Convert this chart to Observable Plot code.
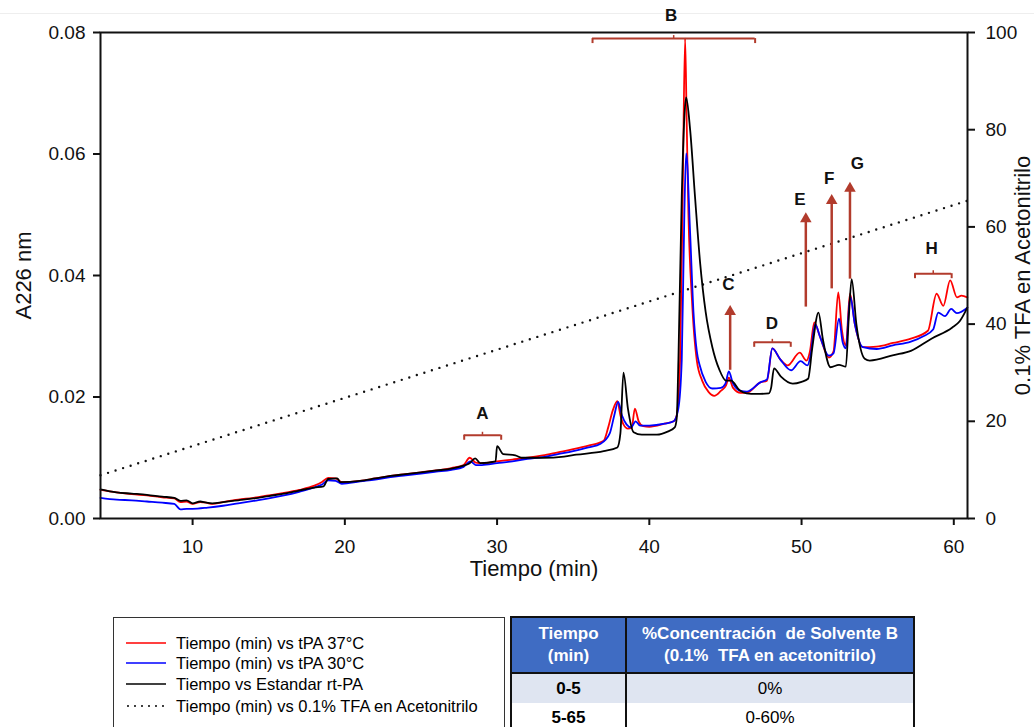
<!DOCTYPE html>
<html>
<head>
<meta charset="utf-8">
<script src="https://cdn.jsdelivr.net/npm/d3@7"></script>
<script src="https://cdn.jsdelivr.net/npm/@observablehq/plot@0.6"></script>
<style>
  html, body { margin: 0; padding: 0; background: #fff; }
  body { font-family: "Liberation Sans", Arial, sans-serif; }
  #wrap { position: relative; width: 1034px; height: 727px; overflow: hidden; background: #fff; }
  #chart { position: absolute; left: 0; top: 0; }
  #topline { position: absolute; left: 0; top: 13px; width: 1034px; height: 1px; background: #eeeeee; }
  #legend { position: absolute; left: 113px; top: 617px; width: 392px; height: 130px; border: 1.5px solid #333; box-sizing: border-box; font-size: 16.5px; color: #000; }
  .lrow { position: absolute; left: 12px; height: 20px; display: flex; align-items: center; }
  .lrow svg { margin-right: 10px; }
  #tbl { position: absolute; left: 510px; top: 616px; border-collapse: collapse; font-size: 17px; color: #000; }
  #tbl th { background: #3f6cc3; color: #fff; font-weight: bold; border: 2px solid #111; text-align: center; line-height: 22px; padding: 4px 0; height: 46px; }
  #tbl td { text-align: center; height: 29px; padding: 0; border-left: 2px solid #111; border-right: 2px solid #111; }
  #tbl tr.r1 td { background: #dfe5f1; }
</style>
</head>
<body>
<div id="wrap">
  <div id="topline"></div>
  <div id="chart"></div>
  <div id="legend"></div>
  <table id="tbl"></table>
</div>
<script>
// ---------------- data ----------------
// tPA 37°C (red): [time (min), A226]
const red37 = [
  [3.95,0.0047],[5,0.0043],[6,0.0040],[7,0.0038],[8,0.0035],[8.8,0.0033],[9.2,0.0027],[9.6,0.0028],[10,0.0024],[10.5,0.0027],[10.9,0.0026],[11.3,0.0024],[12,0.0027],[13,0.0031],[14,0.0034],[15,0.0038],[16,0.0042],[17,0.0047],[18,0.0054],[18.5,0.0060],[18.9,0.0067],[19.4,0.0066],[19.8,0.0060],[21,0.0062],[22,0.0066],[23,0.0070],[24,0.0073],[25,0.0076],[26,0.0079],[27,0.0083],[27.8,0.0088],[28.2,0.0100],[28.6,0.0092],[29,0.0091],[30,0.0094],[31,0.0097],[32,0.0100],[33,0.0104],[34,0.0109],[35,0.0114],[36,0.0120],[37,0.0128],[37.3,0.0150],[37.6,0.0178],[37.9,0.0193],[38.1,0.0170],[38.3,0.0155],[38.6,0.0148],[38.85,0.0150],[39.05,0.0181],[39.3,0.0160],[39.6,0.0152],[40,0.0151],[41,0.0156],[41.6,0.0160],[41.8,0.0170],[42.02,0.0260],[42.2,0.0550],[42.35,0.0790],[42.45,0.0660],[42.57,0.0500],[42.8,0.0360],[43.12,0.0260],[43.47,0.0227],[43.9,0.0208],[44.26,0.0202],[44.7,0.0210],[45.04,0.0219],[45.22,0.0232],[45.5,0.0215],[46.0,0.0207],[46.4,0.0207],[47.29,0.0224],[47.73,0.0227],[48.08,0.0280],[48.6,0.0262],[49.09,0.0252],[49.88,0.0273],[50.32,0.0260],[50.55,0.0275],[50.84,0.0323],[51.2,0.0300],[51.79,0.0265],[52.1,0.0275],[52.41,0.0372],[52.65,0.0310],[52.91,0.0285],[53.18,0.0370],[53.5,0.0320],[54.03,0.0282],[54.93,0.0283],[56,0.0289],[57.18,0.0296],[58.3,0.0309],[58.87,0.0370],[59.31,0.0350],[59.76,0.0392],[60.21,0.0364],[60.5,0.0367],[60.89,0.0364]
];
// tPA 30°C (blue)
const blue30 = [
  [3.95,0.0034],[5,0.0031],[6,0.0030],[7,0.0028],[8,0.0026],[8.8,0.0024],[9.2,0.0015],[9.6,0.0016],[10,0.0016],[11,0.0018],[12,0.0021],[13,0.0025],[14,0.0029],[15,0.0033],[16,0.0038],[17,0.0044],[18,0.0051],[18.5,0.0056],[18.9,0.0063],[19.4,0.0062],[19.8,0.0057],[21,0.0061],[22,0.0064],[23,0.0068],[24,0.0071],[25,0.0074],[26,0.0077],[27,0.0080],[27.8,0.0085],[28.25,0.0094],[28.6,0.0088],[29,0.0088],[30,0.0091],[31,0.0094],[32,0.0098],[33,0.0101],[34,0.0106],[35,0.0111],[36,0.0117],[36.8,0.0123],[37.4,0.0140],[37.7,0.0170],[37.95,0.0192],[38.2,0.0170],[38.5,0.0155],[38.8,0.0150],[39.1,0.0160],[39.4,0.0153],[40,0.0153],[41,0.0156],[41.6,0.0160],[41.9,0.0180],[42.13,0.0260],[42.3,0.0500],[42.42,0.0601],[42.68,0.0470],[42.9,0.0340],[43.12,0.0275],[43.3,0.0253],[43.7,0.0225],[44.14,0.0214],[44.7,0.0215],[45.0,0.0222],[45.22,0.0242],[45.5,0.0222],[46.0,0.0210],[46.4,0.0209],[47.29,0.0224],[47.73,0.0229],[48.08,0.0280],[48.6,0.0262],[49.31,0.0244],[49.94,0.0259],[50.39,0.0252],[50.6,0.0270],[50.89,0.0320],[51.2,0.0300],[51.79,0.0268],[52.1,0.0272],[52.46,0.0329],[52.7,0.0290],[52.91,0.0280],[53.2,0.0365],[53.5,0.0320],[54.03,0.0282],[54.93,0.0279],[56,0.0285],[57.18,0.0291],[58.0,0.0300],[58.64,0.0311],[58.98,0.0339],[59.42,0.0333],[59.83,0.0345],[60.2,0.0338],[60.89,0.0347]
];
// Estandar rt-PA (black)
const stdRtPA = [
  [3.95,0.0048],[5,0.0043],[6,0.0041],[7,0.0039],[8,0.0036],[8.8,0.0034],[9.2,0.0029],[9.6,0.0030],[10,0.0025],[10.5,0.0028],[10.9,0.0026],[11.3,0.0025],[12,0.0027],[13,0.0030],[14,0.0033],[15,0.0037],[16,0.0041],[17,0.0046],[18,0.0051],[18.6,0.0053],[18.9,0.0065],[19.5,0.0066],[19.7,0.0060],[21,0.0062],[22,0.0066],[23,0.0070],[24,0.0073],[25,0.0076],[26,0.0079],[27,0.0082],[27.8,0.0087],[28.2,0.0091],[28.56,0.0099],[28.9,0.0091],[29.9,0.0094],[30.0,0.0119],[30.4,0.0106],[31.2,0.0104],[31.6,0.0100],[33,0.0100],[34.4,0.0102],[35.2,0.0105],[37,0.0111],[37.9,0.0117],[38.1,0.0140],[38.3,0.0240],[38.6,0.0180],[38.97,0.0142],[39.5,0.0138],[40.5,0.0138],[41.2,0.0143],[41.67,0.0150],[41.8,0.0165],[41.91,0.0260],[42.13,0.0530],[42.3,0.0660],[42.42,0.0693],[42.68,0.0640],[43.0,0.0530],[43.34,0.0420],[43.7,0.0340],[44.14,0.0282],[44.6,0.0245],[45.04,0.0227],[45.37,0.0227],[45.93,0.0211],[46.39,0.0206],[47.0,0.0205],[47.85,0.0206],[48.0,0.0215],[48.19,0.0247],[48.63,0.0234],[49.42,0.0222],[50.0,0.0225],[50.43,0.0230],[50.7,0.0280],[51.11,0.0339],[51.4,0.0295],[51.9,0.0249],[52.46,0.0253],[52.91,0.0250],[53.1,0.0330],[53.29,0.0394],[53.6,0.0320],[54.15,0.0263],[54.48,0.0260],[56.05,0.0269],[57.18,0.0276],[58.53,0.0296],[59.88,0.0314],[60.4,0.0325],[60.89,0.0347]
];
// 0.1% TFA en Acetonitrilo (right axis, %)
const tfaTime = [3.95, 60.9];
const tfaPct = [8.9, 65.4];

// axis ticks
const xTicks = [10, 20, 30, 40, 50, 60];
const yLeftTicks = [0, 0.02, 0.04, 0.06, 0.08];
const yRightTicks = [0, 20, 40, 60, 80, 100];

// annotations: brackets
const bracketLabels = ["A", "B", "D", "H"];
const bracketStart = [27.84, 36.27, 46.89, 57.45];
const bracketEnd = [30.27, 46.95, 49.29, 59.86];
const bracketMid = [29.04, 41.6, 48.08, 58.65];
const bracketLevel = [0.0137, 0.0790, 0.0290, 0.0403];
const bracketTextLevel = [0.0173, 0.0828, 0.0321, 0.0444];
const bracketTextTime = [29.04, 41.43, 48.05, 58.55];
// annotations: arrows
const arrowLabels = ["C", "E", "F", "G"];
const arrowTime = [45.31, 50.28, 51.98, 53.18];
const arrowBase = [0.0244, 0.0348, 0.0378, 0.0394];
const arrowTip = [0.0351, 0.0504, 0.0534, 0.0554];
const arrowTextTime = [45.2, 49.9, 51.82, 53.67];
const arrowTextLevel = [0.0385, 0.0525, 0.0559, 0.0585];

// legend
const legendLabels = ["Tiempo (min) vs tPA 37°C", "Tiempo (min) vs tPA 30°C", "Tiempo vs Estandar rt-PA", "Tiempo (min) vs 0.1% TFA en Acetonitrilo"];
const legendColors = ["#ff0000", "#0000ff", "#000000", "#000000"];
const legendDotted = [false, false, false, true];

// table
const tableHead = [["Tiempo", "(min)"], ["%Concentración\u00a0 de Solvente B", "(0.1%\u00a0 TFA en acetonitrilo)"]];
const tableTime = ["0-5", "5-65"];
const tableConc = ["0%", "0-60%"];

// ---------------- build ----------------
const Y_MAX = 0.08;            // left axis max
const PCT_MAX = 100;           // right axis max
const toLeft = p => p / PCT_MAX * Y_MAX;
const PX = Y_MAX / 486;        // data units per pixel (for small bracket ticks)

const asRows = (arr, series) => arr.map(([t, a]) => ({t, a, series}));
const redRows = asRows(red37, "37");
const blueRows = asRows(blue30, "30");
const blackRows = asRows(stdRtPA, "std");
const tfaRows = tfaTime.map((t, i) => ({t, a: toLeft(tfaPct[i])}));

const brackets = bracketLabels.map((l, i) => ({l, s: bracketStart[i], e: bracketEnd[i], m: bracketMid[i], y: bracketLevel[i], ty: bracketTextLevel[i], tt: bracketTextTime[i]}));
const bracketEnds = brackets.flatMap(b => [{x: b.s, y: b.y}, {x: b.e, y: b.y}]);
const arrows = arrowLabels.map((l, i) => ({l, t: arrowTime[i], b: arrowBase[i], tip: arrowTip[i], tt: arrowTextTime[i], ty: arrowTextLevel[i]}));

const ANN = "#b23b2c";
const font = "'Liberation Sans', Arial, sans-serif";

const chart = Plot.plot({
  width: 1034,
  height: 600,
  marginTop: 32,
  marginLeft: 100,
  marginRight: 67,
  marginBottom: 82,
  style: {fontFamily: font, fontSize: "19px", color: "#111", background: "transparent", overflow: "visible"},
  x: {domain: [3.95, 60.9]},
  y: {domain: [0, Y_MAX]},
  marks: [
    Plot.line(tfaRows, {x: "t", y: "a", stroke: "#111", strokeWidth: 2.4, strokeDasharray: "0,7.9", strokeLinecap: "round"}),
    Plot.line(redRows, {x: "t", y: "a", stroke: "#ff0000", strokeWidth: 1.8, curve: "monotone-x"}),
    Plot.line(blueRows, {x: "t", y: "a", stroke: "#0000ff", strokeWidth: 1.8, curve: "monotone-x"}),
    Plot.line(blackRows, {x: "t", y: "a", stroke: "#000", strokeWidth: 1.8, curve: "monotone-x"}),
    // brackets
    Plot.ruleY(brackets, {y: "y", x1: "s", x2: "e", stroke: ANN, strokeWidth: 2}),
    Plot.ruleX(bracketEnds, {x: "x", y1: "y", y2: d => d.y - 5 * PX, stroke: ANN, strokeWidth: 2}),
    Plot.ruleX(brackets, {x: "m", y1: "y", y2: d => d.y + 3 * PX, stroke: ANN, strokeWidth: 1.5}),
    Plot.text(brackets, {x: "tt", y: "ty", text: "l", fontWeight: "bold", fontSize: 17, fill: "#111"}),
    // arrows
    Plot.ruleX(arrows, {x: "t", y1: "b", y2: d => d.tip - 6 * PX, stroke: ANN, strokeWidth: 2.5}),
    Plot.dot(arrows, {x: "t", y: "tip", symbol: "triangle", r: 4.3, fill: ANN, stroke: "none", dy: 6.5}),
    Plot.text(arrows, {x: "tt", y: "ty", text: "l", fontWeight: "bold", fontSize: 17, fill: "#111"}),
    // frame & axes
    Plot.frame({stroke: "#111", strokeWidth: 2}),
    Plot.axisY({ticks: yLeftTicks, tickFormat: d => d.toFixed(2), tickSize: 7, tickPadding: 8, strokeWidth: 2, label: null, fontSize: 19}),
    Plot.axisY({anchor: "right", ticks: yRightTicks.map(toLeft), tickFormat: d => String(Math.round(d / Y_MAX * PCT_MAX)), tickSize: 7, tickPadding: 11, strokeWidth: 2, label: null, fontSize: 19}),
    Plot.axisX({ticks: xTicks, tickFormat: d => String(d), tickSize: 7, tickPadding: 14, strokeWidth: 2, label: null, fontSize: 19}),
    // axis titles
    Plot.text(["A226 nm"], {frameAnchor: "left", textAnchor: "middle", rotate: -90, dx: -77, fontSize: 22, fill: "#111"}),
    Plot.text(["0.1% TFA en Acetonitrilo"], {frameAnchor: "right", textAnchor: "middle", rotate: -90, dx: 55, fontSize: 22, fill: "#111"}),
    Plot.text(["Tiempo (min)"], {frameAnchor: "bottom", textAnchor: "middle", dy: 57, fontSize: 22, fill: "#111"})
  ]
});
document.getElementById("chart").appendChild(chart);

// legend
const legend = document.getElementById("legend");
const rowTops = [15, 35, 56, 78];
legendLabels.forEach((lab, i) => {
  const row = document.createElement("div");
  row.className = "lrow";
  row.style.top = rowTops[i] + "px";
  const sw = d3.create("svg").attr("width", 40).attr("height", 6);
  sw.append("line").attr("x1", legendDotted[i] ? 2 : 0).attr("x2", 40).attr("y1", 3).attr("y2", 3)
    .attr("stroke", legendColors[i]).attr("stroke-width", legendDotted[i] ? 2 : 1.6)
    .attr("stroke-dasharray", legendDotted[i] ? "0,7" : null)
    .attr("stroke-linecap", legendDotted[i] ? "round" : "butt");
  row.appendChild(sw.node());
  const span = document.createElement("span");
  span.textContent = lab;
  row.appendChild(span);
  legend.appendChild(row);
});

// table
const tbl = d3.select("#tbl");
const hr = tbl.append("tr");
const widths = [113, 286];
tableHead.forEach((lines, i) => {
  const th = hr.append("th").style("width", widths[i] + "px");
  lines.forEach((ln, j) => { if (j) th.append("br"); th.append("span").text(ln); });
});
tableTime.forEach((t, i) => {
  const tr = tbl.append("tr").attr("class", "r" + (i + 1));
  tr.append("td").style("font-weight", "bold").text(t);
  tr.append("td").text(tableConc[i]);
});
</script>
</body>
</html>
